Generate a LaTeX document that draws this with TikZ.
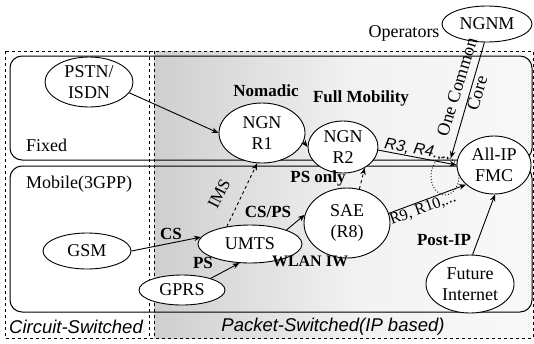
\documentclass[tikz,border=0pt]{standalone}
\usepackage{fontspec}
\setmainfont{Liberation Serif}
\newfontfamily\sansfnt{Liberation Sans}
\usetikzlibrary{shapes.geometric,arrows.meta}
\begin{document}
\begin{tikzpicture}[x=1pt,y=-1pt,
  nd/.style={ellipse, draw, line width=0.9pt, fill=white, inner sep=0pt, align=center,
    font=\fontsize{18}{21}\selectfont},
  arr/.style={-{Stealth[length=7pt,width=5.5pt]}, line width=0.9pt},
  lbl/.style={font=\bfseries\fontsize{17}{20}\selectfont, inner sep=0pt},
  txt/.style={font=\fontsize{18}{21}\selectfont, inner sep=0pt, align=center},
  bottomlbl/.style={font=\sansfnt\itshape\fontsize{18.5}{20}\selectfont, inner sep=0pt},
  boxframe/.style={draw, line width=1pt, rounded corners=12pt},
  divider/.style={dashed, line width=0.6pt}]
\useasboundingbox (0,0) rectangle (534,343);
% shaded packet-switched area
\shade[left color=gray!38, right color=gray!10] (154,51) rectangle (360,338);
\shade[left color=gray!10, right color=gray!5] (360,51) rectangle (533,338);
% outer frame and dividers
\draw[divider] (5,51) rectangle (533,338);
\draw[divider] (149,51) -- (149,338);
\draw[divider] (154,51) -- (154,338);
% domain boxes
\draw[boxframe] (10,56) rectangle (532,160);
\draw[boxframe] (10,166) rectangle (532,312);
\node[txt, anchor=west] (fixed) at (26,145) {Fixed};
\node[txt, anchor=west] (mobile) at (26,184) {Mobile(3GPP)};
\node[bottomlbl] (cs) at (76,327) {Circuit-Switched};
\node[bottomlbl] (ps) at (333,327) {Packet-Switched(IP based)};
% common core marker
\node[ellipse, draw, dotted, line width=0.9pt, minimum width=28pt, minimum height=38pt, inner sep=0pt] (core) at (445,176) {};
% nodes
\node[nd, minimum width=88pt, minimum height=50pt] (pstn) at (89,82) {PSTN/\\ISDN};
\node[nd, minimum width=86pt, minimum height=60pt] (r1) at (262,133) {NGN\\R1};
\node[nd, minimum width=70pt, minimum height=52pt] (r2) at (343,147) {NGN\\R2};
\node[nd, minimum width=74pt, minimum height=58pt] (fmc) at (494,165) {All-IP\\FMC};
\node[nd, minimum width=90pt, minimum height=36pt] (ngnm) at (487,24) {NGNM};
\node[nd, minimum width=88pt, minimum height=36pt] (gsm) at (87,251) {GSM};
\node[nd, minimum width=86pt, minimum height=30pt] (gprs) at (182,290) {GPRS};
\node[nd, minimum width=104pt, minimum height=38pt] (umts) at (250,244) {UMTS};
\node[nd, minimum width=86pt, minimum height=70pt] (sae) at (347,223) {SAE\\(R8)};
\node[nd, minimum width=88pt, minimum height=58pt] (fi) at (470,284) {Future\\Internet};
% labels
\node[lbl] (nomadic) at (266,91) {Nomadic};
\node[lbl] (fullmob) at (361,98) {Full Mobility};
\node[txt] (operators) at (404,33) {Operators};
\node[txt, rotate=73] (onecore) at (467,90) {One Common\\Core};
\node[font=\sansfnt\itshape\fontsize{16}{18}\selectfont, inner sep=0pt, rotate=-10] (r34) at (418,150) {R3, R4....};
\node[lbl] (psonly) at (318,178) {PS only};
\node[txt, rotate=63, font=\fontsize{17}{20}\selectfont] (ims) at (219,194) {IMS};
\node[lbl] (csps) at (268,212) {CS/PS};
\node[lbl] (cslbl) at (171,234) {CS};
\node[lbl] (pslbl) at (203,263) {PS};
\node[lbl, font=\bfseries\fontsize{16}{18}\selectfont] (wlan) at (310,261) {WLAN IW};
\node[txt, rotate=20, font=\fontsize{16}{18}\selectfont] (r910) at (423,209) {R9, R10,...};
\node[lbl] (postip) at (444,240) {Post-IP};
% connectors
\draw[arr] (pstn.-15) -- (r1.west);
\draw[arr] (r1.-12) -- (r2.west);
\draw[arr] (r2.-5) -- (fmc.west);
\draw[arr] (ngnm.262) -- (core.72);
\draw[arr, dashed] (umts.143) -- (r1.261);
\draw[arr] (gsm.east) -- (umts.172);
\draw[arr] (gprs.22) -- (umts.241);
\draw[arr] (umts.21) -- (sae.169);
\draw[arr, dashed] (sae.70) -- (r2.-44);
\draw[arr] (sae.13) -- (fmc.215);
\draw[arr] (fi.85) -- (fmc.272);
\end{tikzpicture}
\end{document}
